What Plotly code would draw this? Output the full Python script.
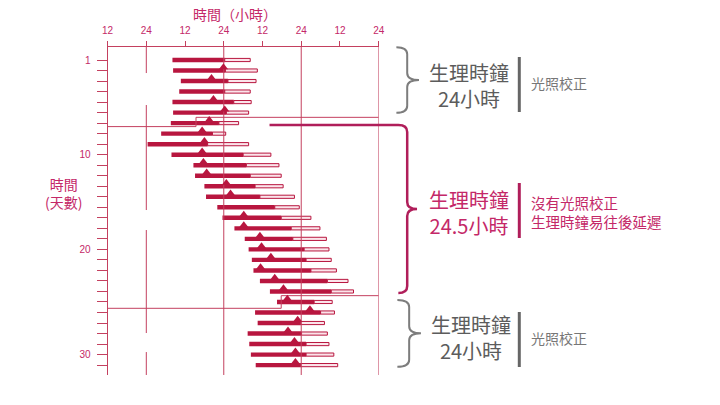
import plotly.graph_objects as go

# ---------- Data (hours from the first "12" mark, one row per day) ----------
DAYS = list(range(1, 31))

ACTIVE_START = [20.1, 20.3, 22.7, 22.2, 20.1, 20.3, 19.6, 16.6, 12.4, 19.8,
                26.6, 27.1, 30.0, 30.5, 34.0, 35.6, 39.3, 42.5, 43.7, 44.7,
                45.2, 47.2, 50.3, 52.5, 45.7, 46.5, 43.4, 43.9, 44.4, 45.9]
ACTIVE_END = [36.3, 36.5, 37.3, 36.3, 39.1, 36.8, 34.5, 32.5, 31.0, 42.0,
              43.0, 44.2, 45.7, 47.2, 51.8, 53.8, 56.9, 57.4, 60.9, 61.5,
              63.0, 68.1, 69.3, 64.0, 66.0, 59.9, 60.1, 61.5, 61.5, 59.9]
REST_END = [44.2, 46.4, 46.0, 44.2, 44.5, 43.7, 40.6, 36.6, 43.7, 50.6,
            53.1, 53.8, 54.4, 57.9, 59.4, 63.0, 65.8, 67.8, 68.6, 69.3,
            70.9, 74.5, 76.2, 69.6, 70.3, 67.2, 68.1, 68.6, 70.1, 71.3]
TEMP_MAX = [None, 35.9, 32.2, None, 32.8, 36.3, 31.5, 29.3, 30.0, 29.3,
            29.7, 30.7, 36.8, 38.1, None, 42.2, 42.2, 47.2, 47.7, 50.6,
            47.4, 51.8, 54.5, 55.7, 62.7, 58.9, 55.9, 57.9, 58.2, 58.2]

HOUR_TICKS = [0, 12, 24, 36, 48, 60, 72, 84]
HOUR_LABELS = ["12", "24", "12", "24", "12", "24", "12", "24"]
DAY_LABEL_ROWS = [1, 10, 19, 29]
DAY_LABELS = ["1", "10", "20", "30"]

# 24 h reference lines (full height) and the broken one at 12 h
DAY_LINES = [36, 60, 84]
BROKEN_LINE_X = 12
BROKEN_SEGMENTS = [(-0.27, 2.24), (5.28, 15.26), (17.16, 26.95), (28.76, 30.94)]

# phase boundary steps: (hour, day) points
STEP_A = [(0, 7.33), (27.4, 7.33), (27.4, 6.45), (84, 6.45)]
STEP_B = [(0, 24.6), (53.8, 24.6), (53.8, 23.4), (84, 23.4)]

Y_TOP, Y_BOTTOM = -0.264, 30.94

RED = "#b8163f"
LINE = "#c4405f"
PINK = "#c42868"
GREY = "#5c5c5c"
W, H = 720, 405


def X(px):
    return px / W


def Y(py):
    return 1 - py / H


def brace(x0, yt, yb, arm, tip, r=7, lead=None):
    xm, xt, ym = x0 + arm, x0 + arm + tip, (yt + yb) / 2
    p = f"M {X(lead)},{Y(yt)} L {X(x0)},{Y(yt)} " if lead else f"M {X(x0)},{Y(yt)} "
    p += (f"Q {X(xm)},{Y(yt)} {X(xm)},{Y(yt + r)} L {X(xm)},{Y(ym - r)} "
          f"Q {X(xm)},{Y(ym)} {X(xt)},{Y(ym)} Q {X(xm)},{Y(ym)} {X(xm)},{Y(ym + r)} "
          f"L {X(xm)},{Y(yb - r)} Q {X(xm)},{Y(yb)} {X(x0)},{Y(yb)}")
    return p


fig = go.Figure()

# ---------- reference lines ----------
gx, gy = [], []
for h in DAY_LINES:
    gx += [h, h, None]
    gy += [Y_TOP, Y_BOTTOM, None]
for a, b in BROKEN_SEGMENTS:
    gx += [BROKEN_LINE_X, BROKEN_LINE_X, None]
    gy += [a, b, None]
for step in (STEP_A, STEP_B):
    gx += [p[0] for p in step] + [None]
    gy += [p[1] for p in step] + [None]
fig.add_trace(go.Scatter(x=gx, y=gy, mode="lines", line=dict(color=LINE, width=1),
                         hoverinfo="skip"))

# ---------- bars ----------
fig.add_trace(go.Bar(
    y=DAYS, base=ACTIVE_END, x=[e - s for s, e in zip(ACTIVE_END, REST_END)],
    orientation="h", width=0.3,
    marker=dict(color="#fbe4ea", line=dict(color=RED, width=1)),
))
fig.add_trace(go.Bar(
    y=DAYS, base=ACTIVE_START, x=[e - s for s, e in zip(ACTIVE_START, ACTIVE_END)],
    orientation="h", width=0.42, marker=dict(color=RED, line=dict(width=0)),
))

tri_x = [t for t in TEMP_MAX if t is not None]
tri_y = [d - 0.3 for d, t in zip(DAYS, TEMP_MAX) if t is not None]
fig.add_trace(go.Scatter(x=tri_x, y=tri_y, mode="markers",
                         marker=dict(symbol="triangle-up", size=8, color=RED)))

# ---------- right-hand notes ----------
shapes = [
    dict(type="path", xref="paper", yref="paper", path=brace(397, 47.3, 112.7, 11, 12),
         line=dict(color="#7d7d7d", width=2)),
    dict(type="path", xref="paper", yref="paper", path=brace(399, 125, 293, 9, 10, lead=268),
         line=dict(color="#b01e5a", width=2.5)),
    dict(type="path", xref="paper", yref="paper", path=brace(398, 300, 366.7, 12, 12),
         line=dict(color="#7d7d7d", width=2)),
]
for y0, y1, c in [(57, 112, "#666666"), (183, 238, "#b01e5a"), (312, 367, "#666666")]:
    shapes.append(dict(type="line", xref="paper", yref="paper", x0=X(522), x1=X(522),
                       y0=Y(y0), y1=Y(y1), line=dict(color=c, width=3)))

CJK = "Noto Sans CJK TC"
notes = [
    ("生理時鐘<br>24小時", 471, 85, 20, GREY, "center"),
    ("光照校正", 532, 83, 14, "#777777", "left"),
    ("生理時鐘<br>24.5小時", 471, 212, 20, PINK, "center"),
    ("沒有光照校正<br>生理時鐘易往後延遲", 532, 212, 14.5, PINK, "left"),
    ("生理時鐘<br>24小時", 473, 337, 20, GREY, "center"),
    ("光照校正", 532, 338, 14, "#777777", "left"),
    ("時間（小時）", 233, 14, 14, PINK, "center"),
    ("時間<br>(天數)", 58, 193, 14, PINK, "center"),
]
annotations = [
    dict(text=t, x=X(x), y=Y(y), xref="paper", yref="paper", xanchor=a, yanchor="middle",
         align=a, showarrow=False, font=dict(family=CJK, size=s, color=c))
    for t, x, y, s, c, a in notes
]

fig.update_layout(
    width=W, height=H,
    margin=dict(l=0, r=0, t=0, b=0),
    plot_bgcolor="white", paper_bgcolor="white",
    showlegend=False, barmode="overlay",
    shapes=shapes, annotations=annotations,
    xaxis=dict(
        domain=[X(103.3), X(379)], range=[0, 84], side="top",
        tickvals=HOUR_TICKS, ticktext=HOUR_LABELS,
        ticks="outside", ticklen=5, tickcolor=LINE, tickwidth=1,
        ticklabelstandoff=3,
        showline=True, linecolor=LINE, linewidth=1,
        showgrid=False, zeroline=False,
        tickfont=dict(family="Liberation Sans", size=10, color=PINK),
    ),
    yaxis=dict(
        domain=[Y(375), Y(46.7)], range=[Y_BOTTOM, Y_TOP],
        tickvals=DAYS,
        ticktext=[DAY_LABELS[DAY_LABEL_ROWS.index(d)] if d in DAY_LABEL_ROWS else "" for d in DAYS],
        ticks="outside", ticklen=10, tickcolor=LINE, tickwidth=1,
        ticklabelstandoff=4,
        showline=True, linecolor=LINE, linewidth=1,
        showgrid=False, zeroline=False,
        tickfont=dict(family="Liberation Sans", size=10, color=PINK),
    ),
)

# drop the browser's default page margin so the figure sits at (0, 0)
fig.write_html("out.html", config={"displayModeBar": False},
               post_script="document.body.style.margin = '0';")
